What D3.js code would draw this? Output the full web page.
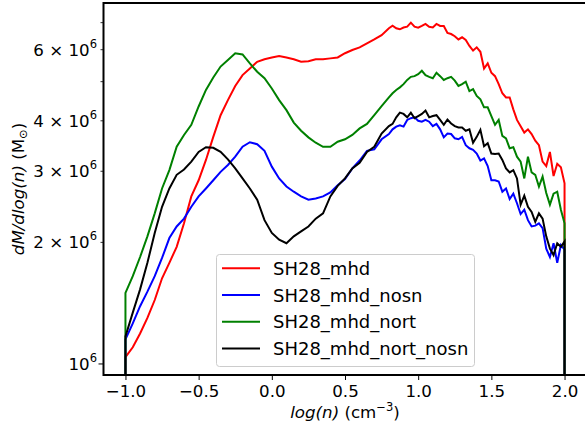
<!DOCTYPE html>
<html lang="en">
<head>
  <meta charset="UTF-8">
  <title>dM/dlog(n) per run</title>
  <style>
    body {
      margin: 0;
      background-color: #ffffff;
    }
    svg {
      display: block;
      font-family: "DejaVu Sans", sans-serif;
    }
  </style>
</head>
<body>
<div id="chart"></div>
<script src="https://d3js.org/d3.v7.min.js"></script>
<script>
  // log(n) positions (finer where the curves get noisy)
  const logn = [
    -1.00, -0.95, -0.90, -0.85, -0.80, -0.75, -0.70, -0.65, -0.60, -0.55,
    -0.50, -0.45, -0.40, -0.35, -0.30, -0.25, -0.20, -0.15, -0.10, -0.05,
     0.00,  0.05,  0.10,  0.15,  0.20,  0.25,  0.30,  0.35,  0.40,  0.45,
     0.50,  0.55,  0.60,  0.65,  0.70,  0.75,
     0.800, 0.825, 0.850, 0.875, 0.900, 0.925, 0.950, 0.975,
     1.000, 1.025, 1.050, 1.075, 1.100, 1.125, 1.150, 1.175,
     1.200, 1.225, 1.250, 1.275, 1.300, 1.325, 1.350, 1.375,
     1.400, 1.425, 1.450, 1.475, 1.500, 1.525, 1.550, 1.575,
     1.600, 1.625, 1.650, 1.675, 1.700, 1.725, 1.750, 1.775,
     1.800, 1.825, 1.850, 1.875, 1.900, 1.925, 1.950, 1.975,
     2.000
  ];

  // dM/dlog(n) in units of 1e6 Msun
  const mhd = [
    1.04, 1.10, 1.19, 1.30, 1.44, 1.63, 1.78, 1.95, 2.23, 2.60,
    2.85, 3.20, 3.65, 4.13, 4.50, 4.88, 5.19, 5.39, 5.60, 5.68,
    5.74, 5.79, 5.74, 5.68, 5.60, 5.62, 5.68, 5.68, 5.71, 5.74,
    5.88, 5.99, 6.08, 6.22, 6.36, 6.52,
    6.78, 6.88, 6.78, 6.74, 6.81, 6.84, 7.00, 6.84,
    6.80, 6.87, 6.95, 6.84, 6.81, 6.95, 6.87, 6.87,
    6.60, 6.56, 6.48, 6.36, 6.44, 6.34, 6.13, 5.97,
    6.08, 5.93, 5.39, 5.55, 5.26, 5.16, 4.93, 4.68,
    4.57, 4.57, 4.27, 4.02, 3.88, 3.74, 3.81, 3.71,
    3.57, 3.48, 3.17, 3.09, 3.35, 2.92, 3.13, 3.07,
    2.80
  ];
  const mhdNosn = [
    1.15, 1.26, 1.39, 1.51, 1.65, 1.83, 2.05, 2.19, 2.29, 2.45,
    2.60, 2.72, 2.85, 2.99, 3.11, 3.26, 3.45, 3.54, 3.50, 3.37,
    3.08, 2.88, 2.75, 2.67, 2.60, 2.55, 2.57, 2.60, 2.66, 2.77,
    2.87, 3.05, 3.19, 3.37, 3.40, 3.60,
    3.71, 3.81, 3.87, 3.90, 3.87, 4.02, 4.06, 4.08,
    4.00, 3.98, 4.02, 3.98, 3.88, 3.93, 3.81, 3.64,
    3.72, 3.71, 3.62, 3.60, 3.65, 3.48, 3.42, 3.39,
    3.32, 3.19, 3.23, 3.09, 2.85, 2.85, 2.83, 2.67,
    2.72, 2.56, 2.64, 2.50, 2.35, 2.41, 2.27, 2.19,
    2.20, 2.23, 2.17, 1.93, 1.84, 1.99, 1.78, 1.97,
    1.92
  ];
  const mhdNort = [
    1.50, 1.65, 1.84, 2.07, 2.36, 2.72, 3.02, 3.45, 3.69, 3.91,
    4.34, 4.77, 5.12, 5.45, 5.66, 5.88, 5.84, 5.55, 5.29, 5.10,
    4.81, 4.50, 4.25, 3.96, 3.78, 3.64, 3.53, 3.45, 3.45, 3.55,
    3.60, 3.69, 3.83, 3.93, 4.13, 4.35,
    4.57, 4.68, 4.77, 4.84, 4.93, 5.05, 5.14, 5.16,
    5.22, 5.32, 5.19, 5.14, 5.10, 5.26, 5.16, 5.05,
    5.10, 5.14, 5.03, 4.88, 4.93, 5.00, 4.74, 4.79,
    4.61, 4.52, 4.32, 4.32, 4.11, 3.91, 4.02, 3.67,
    3.62, 3.42, 3.44, 3.26, 3.17, 2.88, 3.26, 2.98,
    2.94, 2.75, 2.91, 2.65, 2.48, 2.64, 2.67, 2.41,
    2.23
  ];
  const mhdNortNosn = [
    1.17, 1.34, 1.53, 1.78, 2.11, 2.45, 2.72, 2.94, 3.03, 3.17,
    3.35, 3.44, 3.43, 3.35, 3.21, 3.05, 2.88, 2.72, 2.55, 2.27,
    2.11, 2.03, 1.99, 2.07, 2.13, 2.19, 2.29, 2.36, 2.60, 2.76,
    2.88, 3.05, 3.15, 3.35, 3.45, 3.72,
    3.88, 3.93, 4.08, 4.19, 4.16, 4.08, 4.19, 4.06,
    4.11, 4.16, 4.24, 4.08, 4.11, 4.13, 4.02, 3.91,
    4.03, 3.94, 3.88, 3.85, 3.85, 3.78, 3.81, 3.53,
    3.65, 3.80, 3.46, 3.52, 3.32, 3.31, 3.32, 3.20,
    3.05, 2.98, 3.02, 2.88, 2.48, 2.61, 2.45, 2.38,
    2.25, 2.36, 2.29, 2.07, 1.93, 1.86, 1.99, 1.95,
    2.01
  ];

  const seriesNames = ["SH28_mhd", "SH28_mhd_nosn", "SH28_mhd_nort", "SH28_mhd_nort_nosn"];
  const seriesColors = ["red", "blue", "green", "black"];
  const seriesValues = [mhd, mhdNosn, mhdNort, mhdNortNosn];

  const xTicks = [-1.0, -0.5, 0.0, 0.5, 1.0, 1.5, 2.0];
  const yMinorTicks = [2, 3, 4, 5, 6, 7];
  const yLabelTicks = [1, 2, 3, 4, 6];

  const width = 585;
  const height = 428;
  const plot = { left: 103.5, right: 586.5, top: 3, bottom: 375 };
  const fontSize = 16.67;

  const svg = d3.select("#chart").append("svg")
      .attr("width", width)
      .attr("height", height);

  const xScale = d3.scaleLinear().domain([-1.15, 2.15]).range([plot.left, plot.right]);
  const yScale = d3.scaleLog().domain([0.939, 7.83]).range([plot.bottom, plot.top]);

  svg.append("clipPath").attr("id", "plotclip")
      .append("rect")
      .attr("x", plot.left).attr("y", plot.top)
      .attr("width", plot.right - plot.left).attr("height", plot.bottom - plot.top);

  // step histograms: start and end drop to the bottom of the axes
  const line = d3.line()
      .x(d => xScale(d.x))
      .y(d => d.y == null ? plot.bottom + 5 : yScale(d.y));

  const lines = svg.append("g").attr("clip-path", "url(#plotclip)");
  seriesValues.forEach((vals, i) => {
    const pts = [{ x: logn[0], y: null }]
        .concat(logn.map((x, j) => ({ x: x, y: vals[j] })))
        .concat([{ x: logn[logn.length - 1], y: null }]);
    lines.append("path")
        .datum(pts)
        .attr("d", line)
        .attr("fill", "none")
        .attr("stroke", seriesColors[i])
        .attr("stroke-width", 2)
        .attr("stroke-linejoin", "miter");
  });

  // x axis
  const xAxis = svg.append("g")
      .attr("transform", `translate(0,${plot.bottom})`)
      .call(d3.axisBottom(xScale).tickValues(xTicks).tickFormat(d3.format(".1f"))
          .tickSize(5).tickPadding(5));
  xAxis.select(".domain").remove();
  xAxis.selectAll("line").attr("stroke", "#000").attr("stroke-width", 1);
  xAxis.selectAll("text")
      .attr("font-family", "DejaVu Sans")
      .attr("font-size", fontSize)
      .attr("fill", "#000");

  // y axis (log): one major tick at 1e6, minor ticks in between
  const yAxis = svg.append("g");
  yAxis.append("line")
      .attr("x1", plot.left - 5).attr("x2", plot.left)
      .attr("y1", yScale(1)).attr("y2", yScale(1))
      .attr("stroke", "#000");
  yAxis.selectAll(".minor")
      .data(yMinorTicks)
      .enter()
      .append("line")
      .attr("class", "minor")
      .attr("x1", plot.left - 3).attr("x2", plot.left)
      .attr("y1", d => yScale(d)).attr("y2", d => yScale(d))
      .attr("stroke", "#000")
      .attr("stroke-width", 0.8);

  const yLabels = yAxis.selectAll(".ylab")
      .data(yLabelTicks)
      .enter()
      .append("text")
      .attr("class", "ylab")
      .attr("x", 97)
      .attr("y", d => yScale(d) + 6)
      .attr("text-anchor", "end")
      .attr("font-size", fontSize);
  yLabels.append("tspan").text(d => d === 1 ? "10" : d + " \u00d7 10");
  yLabels.append("tspan")
      .attr("dy", -8)
      .attr("font-size", 11.5)
      .text("6");

  // spines
  svg.append("rect")
      .attr("x", plot.left).attr("y", plot.top)
      .attr("width", plot.right - plot.left).attr("height", plot.bottom - plot.top)
      .attr("fill", "none")
      .attr("stroke", "#000")
      .attr("stroke-width", 2);

  // axis titles
  const xTitle = svg.append("text")
      .attr("x", (plot.left + plot.right) / 2)
      .attr("y", 418)
      .attr("text-anchor", "middle")
      .attr("font-size", fontSize);
  xTitle.append("tspan").attr("font-style", "italic").text("log(n)");
  xTitle.append("tspan").text(" (cm");
  xTitle.append("tspan").attr("dy", -7).attr("font-size", 11.5).text("\u22123");
  xTitle.append("tspan").attr("dy", 7).text(")");

  const yTitle = svg.append("text")
      .attr("transform", `translate(24,${(plot.top + plot.bottom) / 2}) rotate(-90)`)
      .attr("text-anchor", "middle")
      .attr("font-size", fontSize);
  yTitle.append("tspan").attr("font-style", "italic").text("dM/dlog(n)");
  yTitle.append("tspan").text(" (M");
  yTitle.append("tspan").attr("dy", 3).attr("font-size", 11.5).text("\u2299");
  yTitle.append("tspan").attr("dy", -3).text(")");

  // legend
  const legend = svg.append("g");
  legend.append("rect")
      .attr("x", 216.5).attr("y", 254.5)
      .attr("width", 258).attr("height", 112)
      .attr("rx", 3)
      .attr("fill", "#fff").attr("fill-opacity", 0.8)
      .attr("stroke", "#cccccc").attr("stroke-width", 1);
  const rows = legend.selectAll(".row")
      .data(seriesNames)
      .enter()
      .append("g")
      .attr("class", "row")
      .attr("transform", (d, i) => `translate(0,${268.3 + i * 26.7})`);
  rows.append("line")
      .attr("x1", 222).attr("x2", 260)
      .attr("stroke", (d, i) => seriesColors[i])
      .attr("stroke-width", 2);
  rows.append("text")
      .attr("x", 273)
      .attr("y", 6.5)
      .attr("font-size", 18)
      .text(d => d);
</script>
</body>
</html>
